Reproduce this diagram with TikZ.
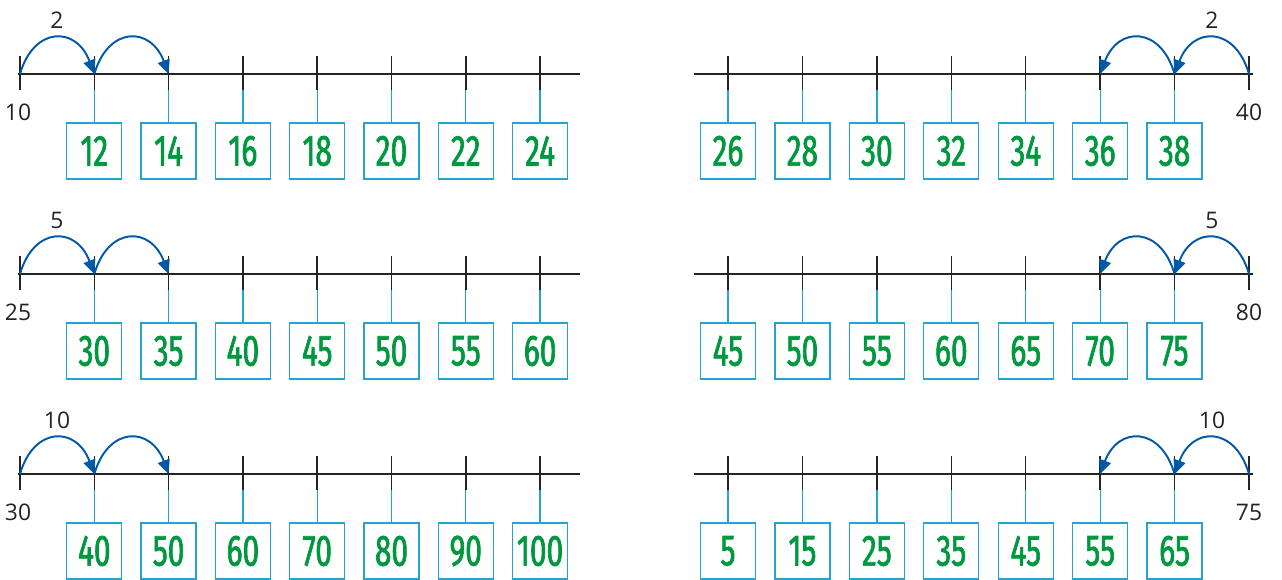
\documentclass[tikz,border=0pt]{standalone}
\usepackage{fontspec}
\setmainfont{Open Sans}
\newfontfamily\handfont[FakeStretch=0.68,FakeBold=1.5]{Fira Sans}
\usetikzlibrary{arrows.meta}
\definecolor{jumpblue}{RGB}{0,88,168}
\definecolor{boxblue}{RGB}{40,160,210}
\definecolor{answergreen}{RGB}{0,152,62}
\definecolor{axisgrey}{RGB}{35,35,35}

\begin{document}
\begin{tikzpicture}[x=0.02cm,y=-0.02cm,
  axis/.style={axisgrey,line width=0.85pt},
  stem/.style={boxblue,line width=0.75pt},
  answer/.style={draw=boxblue,line width=0.75pt,minimum width=1.1cm,minimum height=1.12cm,
    inner sep=0pt,text=answergreen,font=\handfont\fontsize{25}{25}\selectfont},
  endlabel/.style={text=axisgrey,inner sep=0pt,font=\fontsize{13}{13}\selectfont},
  jump/.style={jumpblue,line width=1.1pt,-{Triangle[length=8pt,width=7pt]}}]
\useasboundingbox (0,0) rectangle (1282,579);
% Linke Zahlenstrahlen: vorwaerts springen vom Startwert aus.
\foreach \row/\start/\stp in {0/10/2,1/25/5,2/30/10} {
  \pgfmathsetmacro\ly{74+200*\row}
  \draw[axis] (18,\ly) -- (580,\ly);
  \foreach \k in {0,...,7}
    \coordinate (lt\row-\k) at ({20+74.3*\k},\ly);
  \foreach \k [evaluate=\k as \val using int(\start+\stp*\k)] in {1,...,7} {
    \node[answer] (lb\row-\k) at ({20+74.3*\k},{\ly+77}) {\val};
    \draw[stem] (lt\row-\k) -- (lb\row-\k.north);
  }
  \foreach \k in {0,...,7}
    \draw[axis] (lt\row-\k) ++(0,-18) -- ++(0,34);
  \node[endlabel] (ls\row) at (18,{\ly+38}) {\start};
  \node[endlabel] (lj\row) at (57,{\ly-54}) {\stp};
  \draw[jump] (lt\row-0) .. controls +(14,-48) and +(-18,-48) .. (lt\row-1);
  \draw[jump] (lt\row-1) .. controls +(14,-48) and +(-18,-48) .. (lt\row-2);
}
% Rechte Zahlenstrahlen: rueckwaerts springen vom Endwert aus.
\foreach \row/\stop/\stp in {0/40/2,1/80/5,2/75/10} {
  \pgfmathsetmacro\ly{74+200*\row}
  \draw[axis] (694,\ly) -- (1253,\ly);
  \foreach \k in {0,...,7}
    \coordinate (rt\row-\k) at ({728+74.43*\k},\ly);
  \foreach \k [evaluate=\k as \val using int(\stop-\stp*(7-\k))] in {0,...,6} {
    \node[answer] (rb\row-\k) at ({728+74.43*\k},{\ly+77}) {\val};
    \draw[stem] (rt\row-\k) -- (rb\row-\k.north);
  }
  \foreach \k in {0,...,7}
    \draw[axis] (rt\row-\k) ++(0,-18) -- ++(0,34);
  \node[endlabel] (re\row) at (1249,{\ly+38}) {\stop};
  \node[endlabel] (rj\row) at (1212,{\ly-54}) {\stp};
  \draw[jump] (rt\row-7) .. controls +(-14,-48) and +(18,-48) .. (rt\row-6);
  \draw[jump] (rt\row-6) .. controls +(-14,-48) and +(18,-48) .. (rt\row-5);
}
\end{tikzpicture}
\end{document}
